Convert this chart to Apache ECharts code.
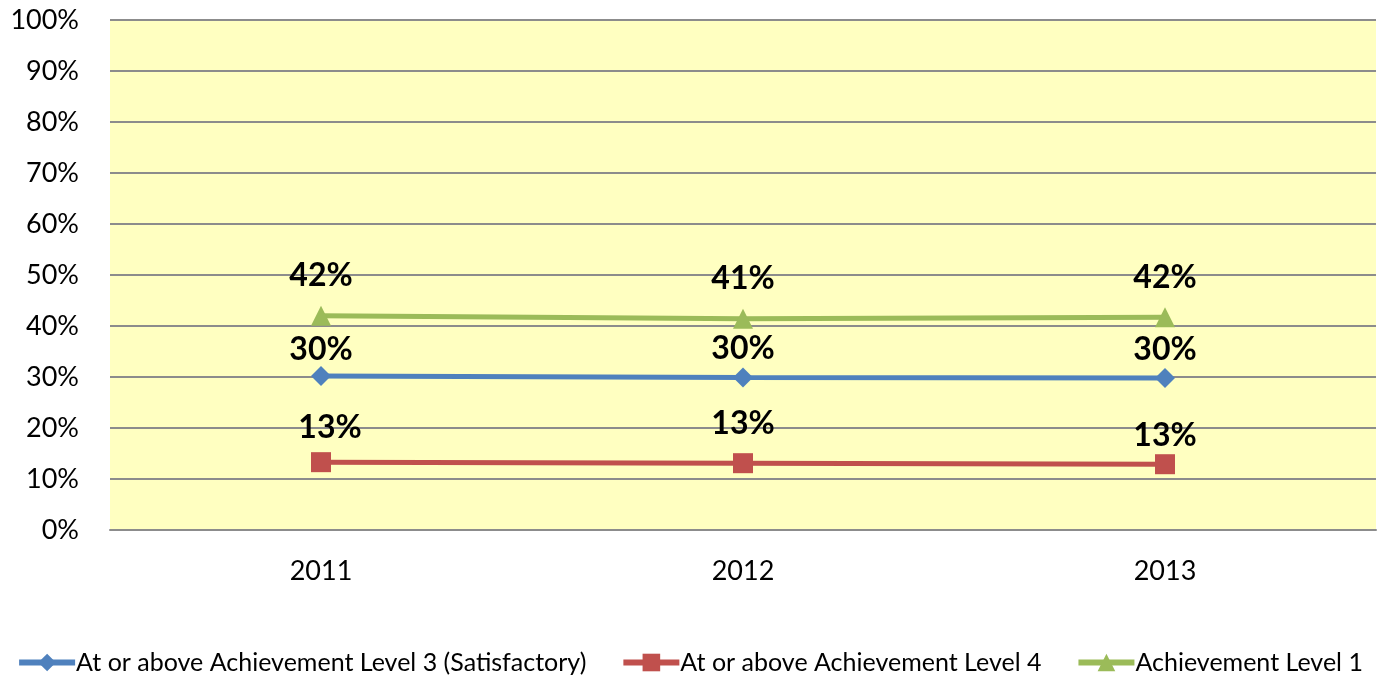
<!DOCTYPE html>
<html>
<head>
<meta charset="utf-8">
<script src="https://cdn.jsdelivr.net/npm/echarts@6/dist/echarts.min.js"></script>
<style>
  html, body { margin: 0; padding: 0; background: #fff; }
  #chart { width: 1379px; height: 679px; }
</style>
</head>
<body>
<div id="chart"></div>
<script>
  // data
  const years = ['2011', '2012', '2013'];
  const level3 = [30.2, 29.9, 29.8];
  const level4 = [13.3, 13.1, 12.9];
  const level1 = [42.0, 41.4, 41.7];
  const yTicks = [0, 10, 20, 30, 40, 50, 60, 70, 80, 90, 100];

  // label nudges so they sit where the original put them
  const level3Offsets = [[0, 10], [0, 7], [0, 8]];
  const level4Offsets = [[9, 2], [0, -4], [0, 7]];
  const level1Offsets = [[0, -4], [0, -4], [0, -4]];

  const font = 'Lato, "Open Sans", sans-serif';

  function withLabels(values, offsets) {
    return values.map((v, i) => ({
      value: v,
      label: { offset: offsets[i] }
    }));
  }

  function makeSeries(name, values, offsets, color, symbol, size) {
    return {
      name: name,
      type: 'line',
      data: withLabels(values, offsets),
      symbol: symbol,
      symbolSize: size,
      showSymbol: true,
      lineStyle: { width: 5, color: color },
      itemStyle: { color: color },
      label: {
        show: true,
        position: 'top',
        distance: 10,
        formatter: p => Math.round(p.value) + '%',
        fontFamily: font,
        fontWeight: 'bold',
        fontSize: 32,
        color: '#000'
      },
      animation: false
    };
  }

  let chart = echarts.init(document.getElementById('chart'));
  let option = {
    backgroundColor: '#fff',
    grid: {
      left: 110,
      right: 3,
      top: 20,
      bottom: 149,
      show: true,
      backgroundColor: '#FFFFC1',
      borderWidth: 0
    },
    xAxis: {
      type: 'category',
      data: years,
      boundaryGap: true,
      axisLine: { show: true, lineStyle: { color: '#8c8c8c', width: 2 } },
      axisTick: { show: false },
      axisLabel: {
        margin: 28,
        fontFamily: font,
        fontSize: 27,
        color: '#000'
      }
    },
    yAxis: {
      type: 'value',
      min: yTicks[0],
      max: yTicks[yTicks.length - 1],
      interval: 10,
      axisLine: { show: false },
      axisTick: { show: false },
      axisLabel: {
        margin: 31,
        fontFamily: font,
        fontSize: 27,
        color: '#000',
        formatter: v => v + '%'
      },
      splitLine: { lineStyle: { color: '#8c8c8c', width: 2 } }
    },
    legend: {
      bottom: 4,
      left: 'center',
      padding: 0,
      itemWidth: 56,
      itemHeight: 22,
      itemGap: 34,
      lineStyle: { width: 6 },
      textStyle: { fontFamily: font, fontSize: 25, color: '#000', padding: [0, 0, 0, -4] },
      data: [
        'At or above Achievement Level 3 (Satisfactory)',
        'At or above Achievement Level 4',
        'Achievement Level 1'
      ]
    },
    series: [
      makeSeries('At or above Achievement Level 3 (Satisfactory)', level3, level3Offsets, '#4F81BD', 'diamond', 20),
      makeSeries('At or above Achievement Level 4', level4, level4Offsets, '#C0504D', 'rect', 20),
      makeSeries('Achievement Level 1', level1, level1Offsets, '#9BBB59', 'triangle', 20)
    ]
  };
  chart.setOption(option);
</script>
</body>
</html>
